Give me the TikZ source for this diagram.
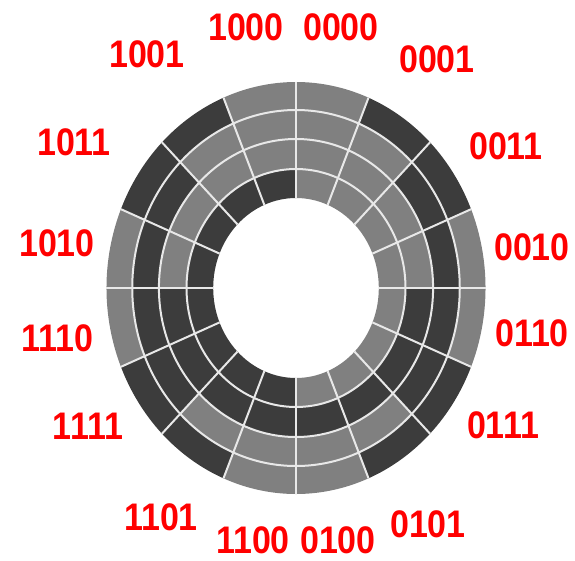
\documentclass[tikz,border=0pt]{standalone}
\usepackage{fontspec}
\setmainfont{Liberation Sans}
\definecolor{bit0}{RGB}{128,128,128}
\definecolor{bit1}{RGB}{60,60,60}
\definecolor{gridline}{RGB}{232,232,232}
\tikzset{
  codelabel/.style={text=red,inner sep=0pt,font=\bfseries\fontsize{34}{34}\selectfont,yscale=1.13,transform shape},
  ringline/.style={draw=gridline,line width=2pt},
}
\begin{document}
\begin{tikzpicture}[x=1pt,y=1pt]
\useasboundingbox (0,0) rectangle (575,-560);
\begin{scope}[shift={(296,-288)},xscale=0.92]
  \foreach \i/\ba/\bb/\bc/\bd in {0/0/0/0/0,1/0/0/0/1,2/0/0/1/1,3/0/0/1/0,4/0/1/1/0,5/0/1/1/1,6/0/1/0/1,7/0/1/0/0,8/1/1/0/0,9/1/1/0/1,10/1/1/1/1,11/1/1/1/0,12/1/0/1/0,13/1/0/1/1,14/1/0/0/1,15/1/0/0/0}{
    \pgfmathsetmacro{\sa}{90-22.5*\i}
    \pgfmathsetmacro{\ea}{\sa-22.5}
    \foreach \ra/\rb/\bit in {90/119/\ba,119/149/\bb,149/178/\bc,178/206/\bd}{
      \fill[bit\bit] (\sa:\ra) arc[start angle=\sa,end angle=\ea,radius=\ra] -- (\ea:\rb) arc[start angle=\ea,end angle=\sa,radius=\rb] -- cycle;
    }
  }
  \foreach \r in {119,149,178}{\draw[ringline] (0,0) circle[radius=\r];}
  \foreach \i in {0,...,15}{\draw[ringline] (22.5*\i:90) -- (22.5*\i:206);}
\end{scope}
\foreach \name/\t/\x/\y in {a/0000/341/27,b/0001/437/59,c/0011/506/146,d/0010/532/247,e/0110/532/333,f/0111/503/425,g/0101/428/524,h/0100/338/540,i/1100/253/540,j/1101/161/517,k/1111/88/426,l/1110/57/338,m/1010/57/243,n/1011/74/142,o/1001/147/54,p/1000/246/27}{
  \node[codelabel] (\name) at (\x,-\y) {\t};
}
\end{tikzpicture}
\end{document}
